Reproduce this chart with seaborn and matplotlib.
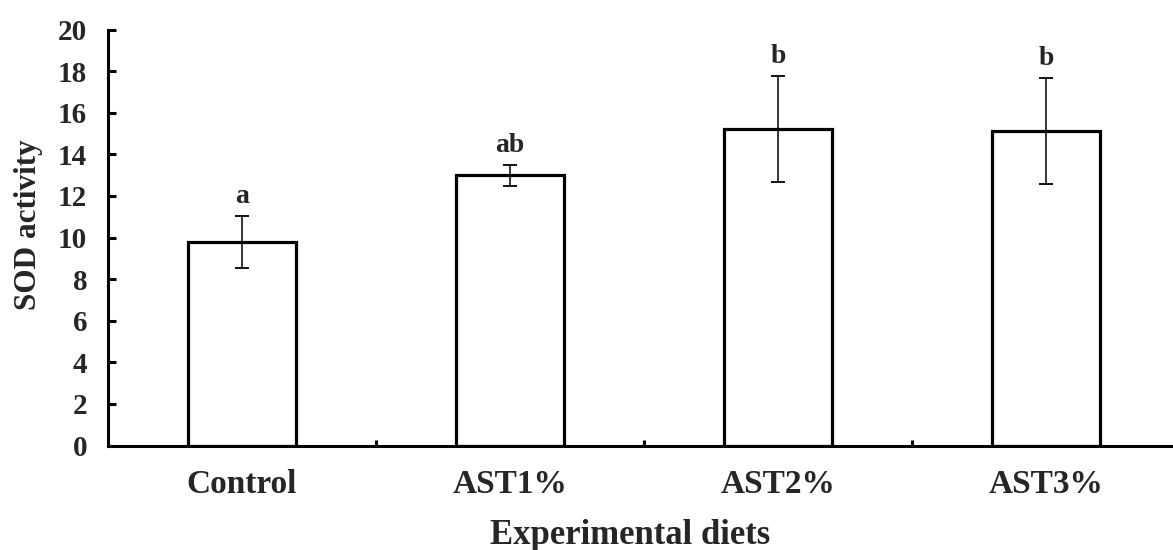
import matplotlib
matplotlib.use("Agg")
import matplotlib.pyplot as plt
from matplotlib.ticker import FixedLocator, MultipleLocator
import seaborn as sns
import pandas as pd

# SOD activity by diet: mean, standard deviation and significance letters
diets = ["Control", "AST1%", "AST2%", "AST3%"]
sod_mean = [9.8, 13.0, 15.2, 15.1]
sod_sd = [1.25, 0.5, 2.55, 2.55]
sig_letters = ["a", "ab", "b", "b"]

df = pd.DataFrame({"diet": diets, "sod": sod_mean})

sns.set_theme(style="white")
plt.rcParams["font.family"] = ["Liberation Serif", "DejaVu Serif"]
plt.rcParams["font.weight"] = "bold"

fig = plt.figure(figsize=(11.73, 5.5), dpi=100)
ax = fig.add_axes([108 / 1173, 104.5 / 550, 1072 / 1173, 416 / 550])

sns.barplot(data=df, x="diet", y="sod", ax=ax, width=0.4, color="white",
            edgecolor="black", linewidth=2.3, errorbar=None, saturation=1)

ax.errorbar(range(len(diets)), sod_mean, yerr=sod_sd, fmt="none",
            ecolor="black", elinewidth=1.1, capsize=5, capthick=1.3, zorder=5)

for i, (m, s, lab) in enumerate(zip(sod_mean, sod_sd, sig_letters)):
    ax.annotate(lab, (i, m + s), xytext=(0, 5), textcoords="offset points",
                ha="center", va="bottom", fontsize=20, fontweight="bold")

ax.set_xlim(-0.5, 3.5)
ax.set_ylim(0, 20)
ax.yaxis.set_major_locator(MultipleLocator(2))

ax.xaxis.set_minor_locator(FixedLocator([0.5, 1.5, 2.5]))
ax.tick_params(axis="x", which="major", length=0, pad=17, labelsize=24)
ax.tick_params(axis="x", which="minor", direction="in", length=4, width=2.2,
               color="black", bottom=True)
ax.tick_params(axis="y", which="major", direction="in", length=6, width=2.2,
               color="black", pad=15, labelsize=21, left=True)

for lbl in ax.get_xticklabels() + ax.get_yticklabels():
    lbl.set_fontweight("bold")

sns.despine(ax=ax)
for side in ("left", "bottom"):
    ax.spines[side].set_linewidth(2.2)
    ax.spines[side].set_color("black")

ax.set_xlabel("Experimental diets", fontsize=25, fontweight="bold")
ax.set_ylabel("SOD activity", fontsize=22.5, fontweight="bold")
ax.xaxis.set_label_coords(0.487, -0.176)
ax.yaxis.set_label_coords(-0.0746, 0.53)
ax.yaxis.label.set_verticalalignment("center")
ax.grid(False)

fig.savefig("out.png", dpi=100, facecolor="white")
